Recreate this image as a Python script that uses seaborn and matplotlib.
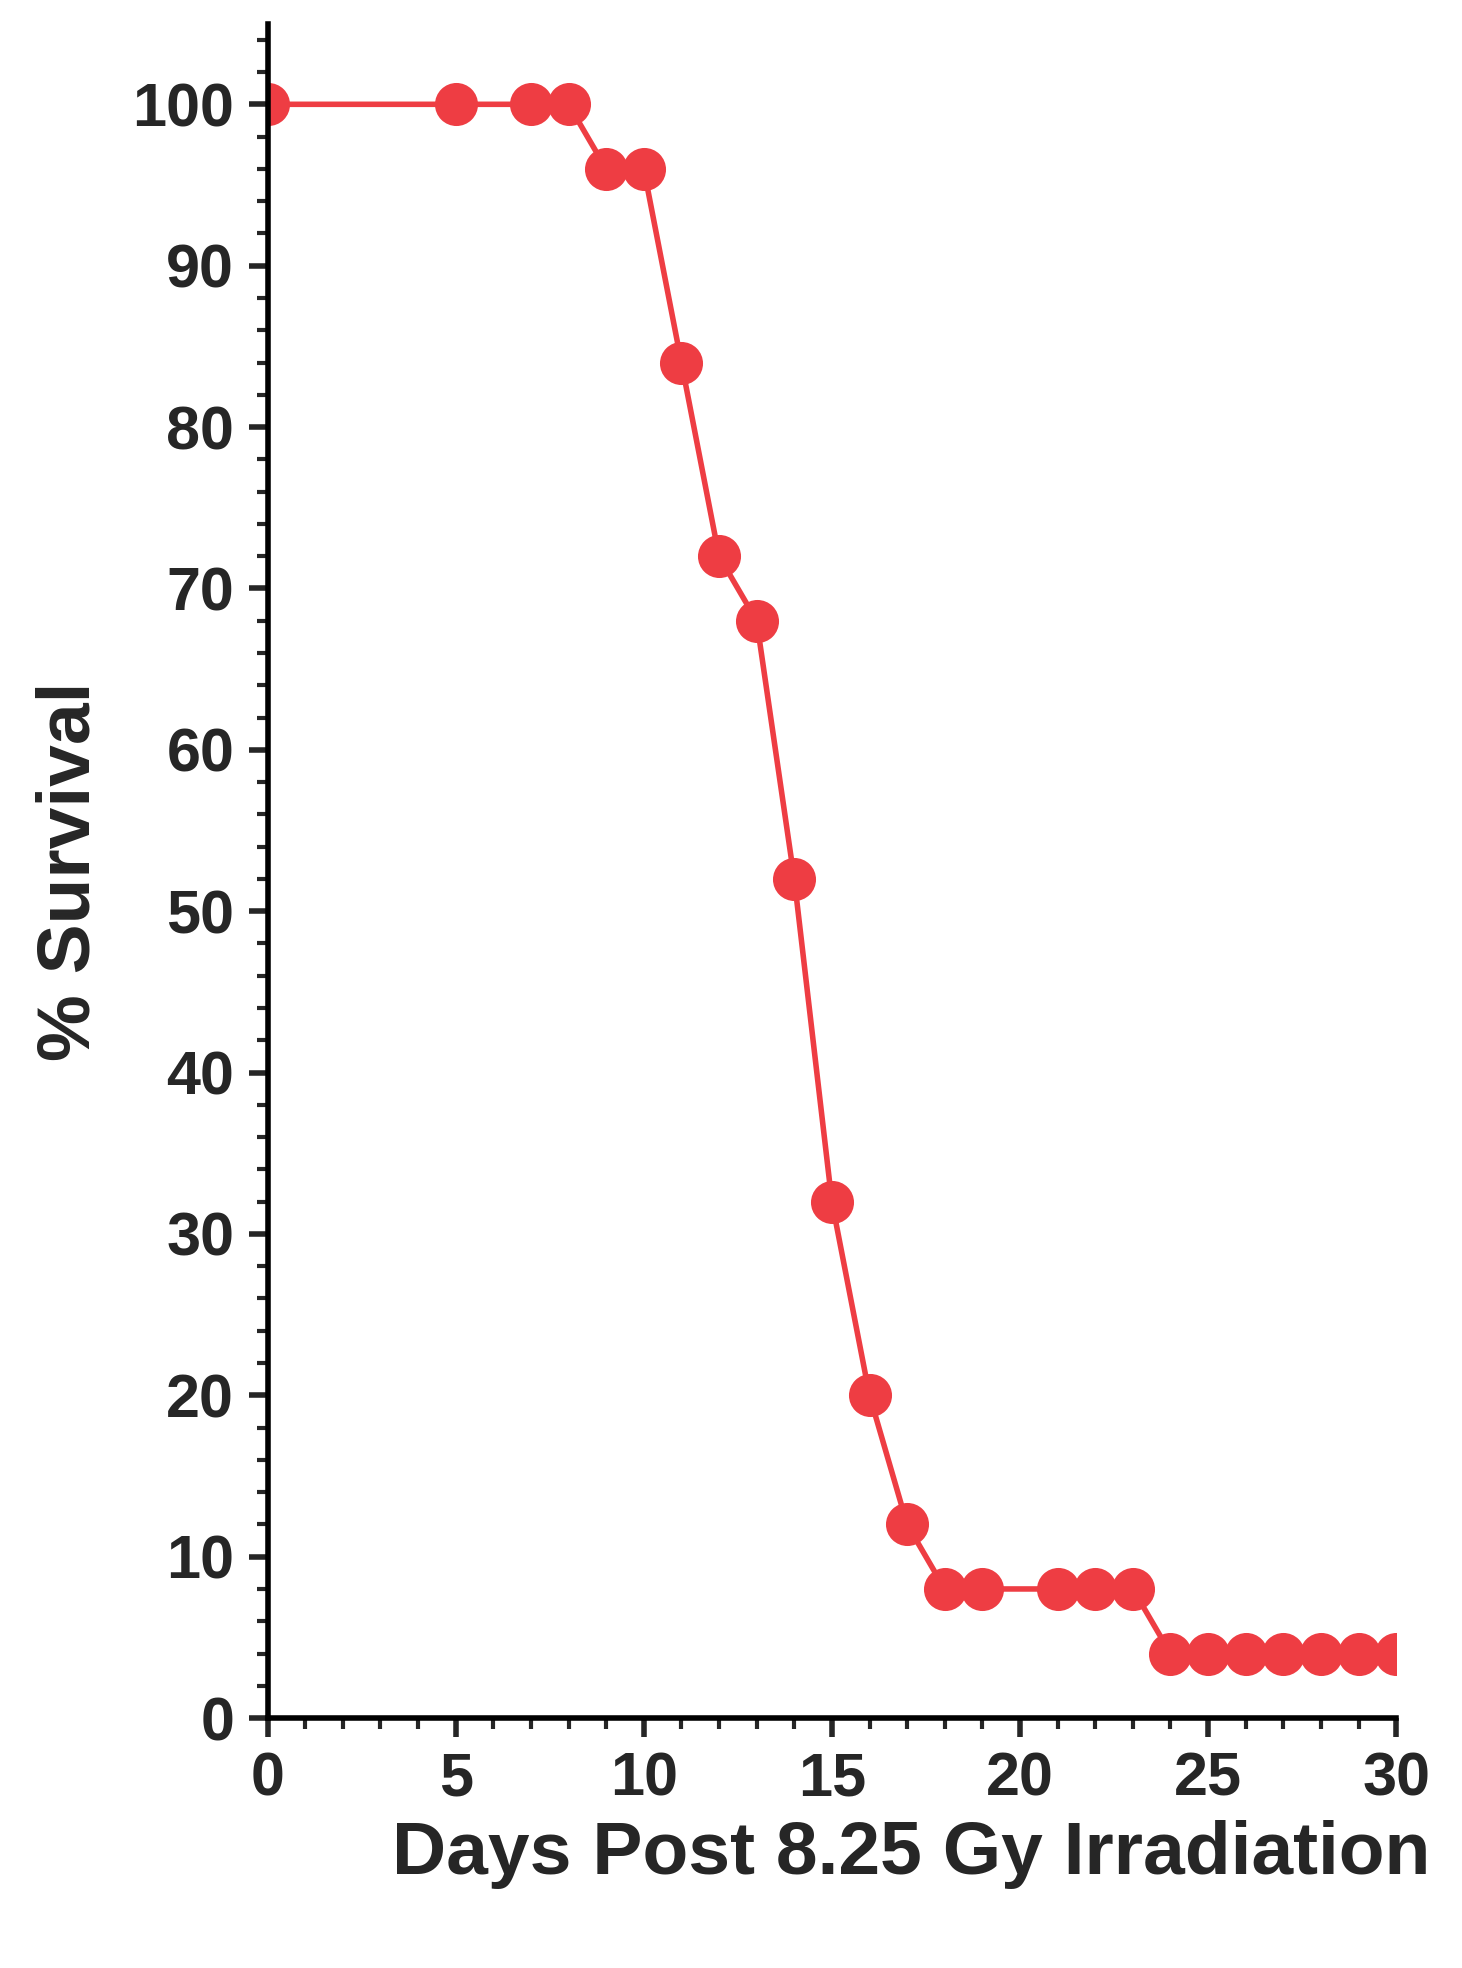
import matplotlib
matplotlib.use("Agg")
import matplotlib.pyplot as plt
import seaborn as sns
import pandas as pd
from matplotlib.ticker import MultipleLocator

days = [0,5,7,8,9,10,11,12,13,14,15,16,17,18,19,21,22,23,24,25,26,27,28,29,30]
survival = [100,100,100,100,96,96,84,72,68,52,32,20,12,8,8,8,8,8,4,4,4,4,4,4,4]
df = pd.DataFrame({"day": days, "surv": survival})

sns.set_style("ticks")
plt.rcParams['font.family'] = ['Liberation Sans', 'DejaVu Sans']
fig = plt.figure(figsize=(14.62, 19.68), dpi=100)
ax = fig.add_axes([0.183, 0.127, 0.772, 0.861])
red = "#EE3D43"
sns.lineplot(data=df, x="day", y="surv", ax=ax, color=red, lw=4,
             marker="o", markersize=31, markeredgewidth=0, markerfacecolor=red)
ax.set_xlim(0, 30)
ax.set_ylim(0, 105)
ax.set_xticks([0,5,10,15,20,25,30])
ax.set_yticks(range(0, 101, 10))
ax.xaxis.set_minor_locator(MultipleLocator(1))
ax.yaxis.set_minor_locator(MultipleLocator(2))
for s in ["top", "right"]:
    ax.spines[s].set_visible(False)
for s in ["left", "bottom"]:
    ax.spines[s].set_linewidth(4)
    ax.spines[s].set_color("black")
ax.tick_params(which="major", length=14, width=4, labelsize=44, pad=10)
ax.tick_params(which="minor", length=8, width=3)
for t in ax.get_xticklabels() + ax.get_yticklabels():
    t.set_fontweight("bold")
ax.set_xlabel("Days Post 8.25 Gy Irradiation", fontsize=54, fontweight="bold", labelpad=20)
ax.set_ylabel("% Survival", fontsize=54, fontweight="bold", labelpad=20)
ax.xaxis.set_label_coords(0.57, -0.06)
fig.savefig("out.png", dpi=100)
